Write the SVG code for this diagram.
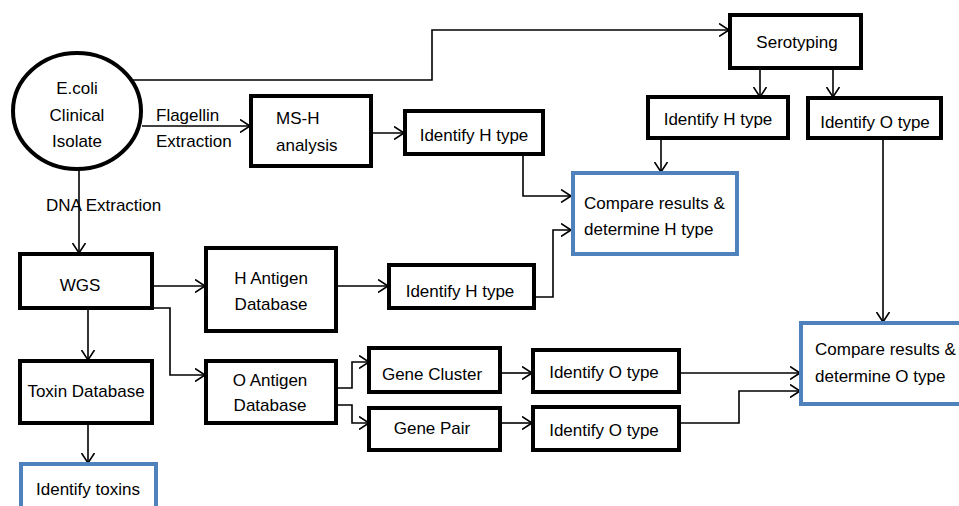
<svg xmlns="http://www.w3.org/2000/svg" width="959" height="506" viewBox="0 0 959 506">
<defs>
<marker id="arr" viewBox="0 0 10 14" refX="10" refY="7" markerWidth="10" markerHeight="14" markerUnits="userSpaceOnUse" orient="auto">
<path d="M0,0.5 L10,7 L0,13.5" fill="none" stroke="#000" stroke-width="1.6"/>
</marker>
<style>
.b{fill:#fff;stroke:#000;stroke-width:4}
.u{fill:#fff;stroke:#4f81bd;stroke-width:4}
.c{fill:none;stroke:#000;stroke-width:1.6;marker-end:url(#arr)}
text{font-family:"Liberation Sans",Arial,sans-serif;font-size:17px;fill:#000}
.m{text-anchor:middle}
</style>
</defs>
<rect width="959" height="506" fill="#fff"/>
<g id="connectors">
<path class="c" d="M133,80 H432 V30 H729"/>
<path class="c" d="M142,126 H250"/>
<path class="c" d="M371,133 H404"/>
<path class="c" d="M523,154 V196 H571"/>
<path class="c" d="M760,68 V97"/>
<path class="c" d="M833,68 V97"/>
<path class="c" d="M661,138 V172"/>
<path class="c" d="M883,138 V322"/>
<path class="c" d="M79,170 V253"/>
<path class="c" d="M152,286 H205"/>
<path class="c" d="M336,286 H388"/>
<path class="c" d="M534,297 H553 V230 H571"/>
<path class="c" d="M88,308 V360"/>
<path class="c" d="M88,423 V463"/>
<path class="c" d="M152,308 H170 V375 H205"/>
<path class="c" d="M336,388 H352 V362 H369"/>
<path class="c" d="M336,405 H352 V423 H369"/>
<path class="c" d="M500,373 H532"/>
<path class="c" d="M500,423 H532"/>
<path class="c" d="M679,373 H800"/>
<path class="c" d="M679,423 H739 V391 H800"/>
</g>
<g id="ecoli">
<ellipse class="b" cx="77" cy="111" rx="64" ry="58"/>
<text class="m" x="77" y="94">E.coli</text>
<text class="m" x="77" y="121">Clinical</text>
<text class="m" x="77" y="147">Isolate</text>
</g>
<g id="label-flagellin">
<text x="156" y="121">Flagellin</text>
<text x="156" y="147">Extraction</text>
</g>
<g id="label-dna">
<text x="46" y="211">DNA Extraction</text>
</g>
<g id="serotyping">
<rect class="b" x="730" y="15" width="131" height="53"/>
<text class="m" x="797" y="48">Serotyping</text>
</g>
<g id="msh">
<rect class="b" x="251" y="96" width="120" height="70"/>
<text x="276" y="124">MS-H</text>
<text x="276" y="151">analysis</text>
</g>
<g id="idh1">
<rect class="b" x="405" y="111" width="138" height="43"/>
<text class="m" x="474" y="141">Identify H type</text>
</g>
<g id="idh-sero">
<rect class="b" x="648" y="97" width="140" height="41"/>
<text class="m" x="718" y="125">Identify H type</text>
</g>
<g id="ido-sero">
<rect class="b" x="808" y="98" width="133" height="40"/>
<text class="m" x="875" y="128">Identify O type</text>
</g>
<g id="compareH">
<rect class="u" x="573" y="173" width="164" height="81"/>
<text x="584" y="209">Compare results &amp;</text>
<text x="584" y="235">determine H type</text>
</g>
<g id="wgs">
<rect class="b" x="20" y="254" width="132" height="54"/>
<text class="m" x="80" y="291">WGS</text>
</g>
<g id="hdb">
<rect class="b" x="206" y="248" width="130" height="83"/>
<text class="m" x="271" y="284">H Antigen</text>
<text class="m" x="271" y="310">Database</text>
</g>
<g id="idh2">
<rect class="b" x="389" y="265" width="145" height="43"/>
<text class="m" x="460" y="297">Identify H type</text>
</g>
<g id="toxdb">
<rect class="b" x="20" y="361" width="132" height="62"/>
<text class="m" x="86" y="397">Toxin Database</text>
</g>
<g id="toxins">
<rect class="u" x="21" y="464" width="135" height="50"/>
<text class="m" x="88" y="495">Identify toxins</text>
</g>
<g id="odb">
<rect class="b" x="206" y="361" width="130" height="62"/>
<text class="m" x="270" y="386">O Antigen</text>
<text class="m" x="270" y="411">Database</text>
</g>
<g id="cluster">
<rect class="b" x="369" y="348" width="131" height="44"/>
<text class="m" x="432" y="380">Gene Cluster</text>
</g>
<g id="pair">
<rect class="b" x="369" y="408" width="131" height="42"/>
<text class="m" x="432" y="434">Gene Pair</text>
</g>
<g id="ido1">
<rect class="b" x="533" y="350" width="146" height="42"/>
<text class="m" x="604" y="378">Identify O type</text>
</g>
<g id="ido2">
<rect class="b" x="533" y="407" width="146" height="43"/>
<text class="m" x="604" y="436">Identify O type</text>
</g>
<g id="compareO">
<rect class="u" x="801" y="323" width="170" height="81"/>
<text x="815" y="355">Compare results &amp;</text>
<text x="815" y="382">determine O type</text>
</g>
</svg>
